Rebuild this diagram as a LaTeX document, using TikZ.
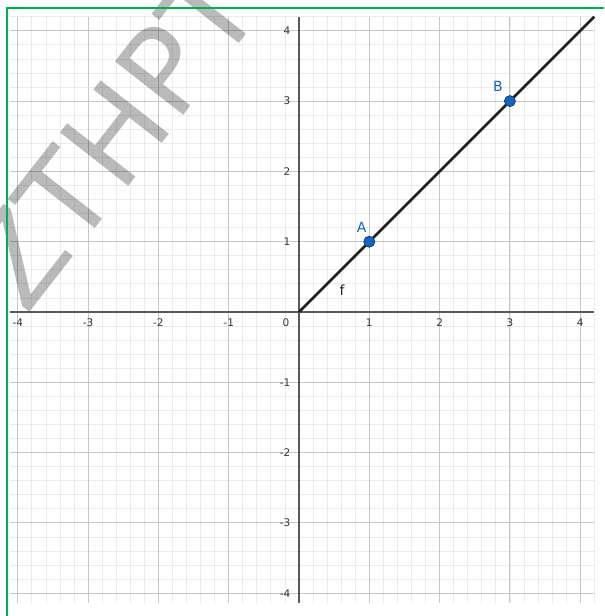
\documentclass[tikz,border=0pt]{standalone}
\usepackage{fontspec}
\setmainfont{DejaVu Sans}
\definecolor{ggblue}{HTML}{1565C0}
\definecolor{ggframe}{HTML}{00B050}
\begin{document}
\begin{tikzpicture}[x=70.3pt,y=70.3pt,
  minorgrid/.style={draw=black!8, line width=0.8pt},
  majorgrid/.style={draw=black!22, line width=1.1pt},
  axisline/.style={draw=black!65, line width=1.4pt},
  ticklab/.style={font=\fontsize{10.5}{12}\selectfont, text=black!80, inner sep=0pt},
  ptlabel/.style={font=\fontsize{14}{16}\selectfont, text=ggblue, inner sep=0pt},
  ptdot/.style={circle, fill=ggblue, draw=ggblue!60!black, line width=0.8pt, minimum size=11pt, inner sep=0pt},
  fline/.style={draw=black!88, line width=2.6pt},
  greenframe/.style={draw=ggframe, line width=2pt},
  wmark/.style={rotate=52, anchor=base west, font=\fontsize{119}{119}\selectfont, text=black, text opacity=0.27, inner sep=0pt}
  ]
\useasboundingbox (-4.2532,-4.3243) rectangle (4.3385,4.4381);
\fill[white] (-4.2532,-4.3243) rectangle (4.3385,4.4381);
% grid
\draw[minorgrid, step=0.2] (-4.11,-4.14) grid (4.2,4.2);
\draw[majorgrid, step=1] (-4.11,-4.14) grid (4.2,4.2);
% axes
\coordinate (xl) at (-4.11,0);
\coordinate (xr) at (4.2,0);
\coordinate (yb) at (0,-4.14);
\coordinate (yt) at (0,4.2);
\draw[axisline] (xl) -- (xr);
\draw[axisline] (yb) -- (yt);
% tick labels
\foreach \i in {-4,-3,-2,-1,1,2,3,4} {
  \node[ticklab] (xt\i) at (\i,-0.145) {\i};
  \node[ticklab, anchor=east] (yt\i) at (-0.12,\i) {\i};
}
\node[ticklab] (zero) at (-0.185,-0.145) {0};
% watermark
\begin{scope}
\clip (-4.2532,-4.3243) rectangle (4.3385,4.4381);
\node[wmark] (wm) at (-3.879,-0.067) {ZTHPT};
\end{scope}
% function f
\coordinate (O) at (0,0);
\coordinate (fend) at (4.2,4.2);
\draw[fline] (O) -- (fend);
\node[ptdot] (A) at (1,1) {};
\node[ptdot] (B) at (3,3) {};
\node[ptlabel] (Alab) at (0.89,1.21) {A};
\node[ptlabel] (Blab) at (2.83,3.215) {B};
\node[font=\fontsize{14}{16}\selectfont, text=black!85, inner sep=0pt] (flab) at (0.612,0.306) {f};
% frame
\coordinate (btl) at (-4.154,4.3243);
\coordinate (btr) at (4.3385,4.3243);
\coordinate (bbl) at (-4.154,-4.3243);
\draw[greenframe] (btr) -- (btl) -- (bbl);
\end{tikzpicture}
\end{document}
